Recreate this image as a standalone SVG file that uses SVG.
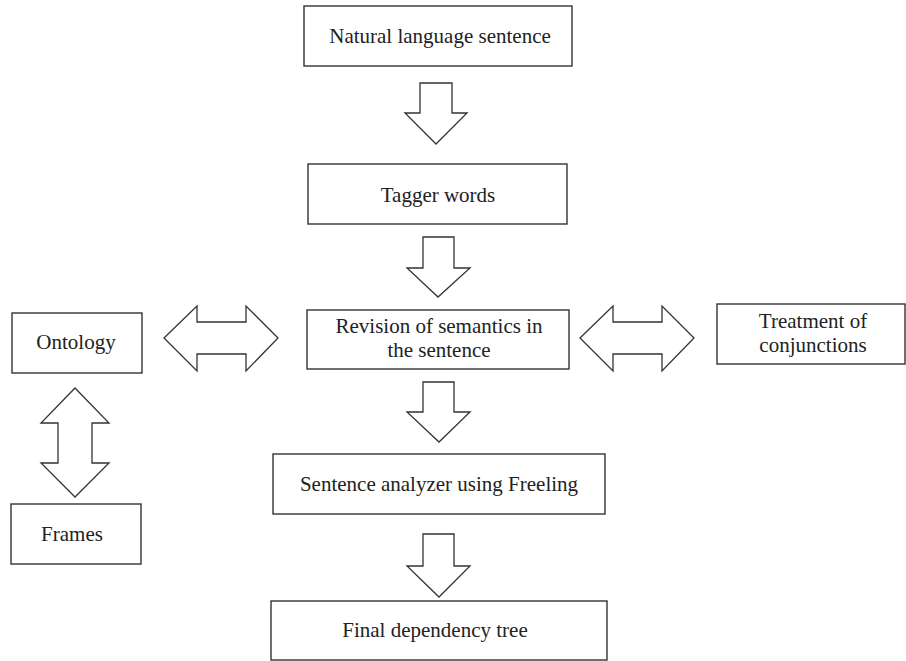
<svg xmlns="http://www.w3.org/2000/svg" width="906" height="661" viewBox="0 0 906 661">
  <style>
    .box { fill: #ffffff; stroke: #333333; stroke-width: 1.4; }
    .arrow { fill: #ffffff; stroke: #333333; stroke-width: 1.3; stroke-linejoin: miter; }
    .label { font-family: "Liberation Serif", "Times New Roman", serif; font-size: 21px; fill: #222222; text-anchor: middle; }
  </style>
  <rect width="906" height="661" fill="#ffffff"/>

  <!-- block arrows between the steps -->
  <g id="connectors">
    <polygon class="arrow" points="420,83 452,83 452,113 467,113 436,144 405,113 420,113"/>
    <polygon class="arrow" points="423,237 454,237 454,268 470,268 438,297 407,268 423,268"/>
    <polygon class="arrow" points="423,382 454,382 454,412 470,412 439,442 407,412 423,412"/>
    <polygon class="arrow" points="423,534 454,534 454,566 470,566 439,597 407,566 423,566"/>
    <!-- two-way arrow: Ontology <-> Revision -->
    <polygon class="arrow" points="164,338 197,306 197,322 246,322 246,306 278,338 246,371 246,354 197,354 197,371"/>
    <!-- two-way arrow: Revision <-> Treatment of conjunctions -->
    <polygon class="arrow" points="580,338 613,306 613,322 662,322 662,306 694,338 662,371 662,354 613,354 613,371"/>
    <!-- two-way arrow: Ontology <-> Frames -->
    <polygon class="arrow" points="75,388 109,423 92,423 92,463 109,463 75,497 41,463 58,463 58,423 41,423"/>
  </g>

  <g id="natural-language-sentence">
    <rect class="box" x="304" y="6" width="268" height="60"/>
    <text class="label" x="440" y="43">Natural language sentence</text>
  </g>

  <g id="tagger-words">
    <rect class="box" x="308" y="164" width="259" height="60"/>
    <text class="label" x="438" y="202">Tagger words</text>
  </g>

  <g id="revision-of-semantics">
    <rect class="box" x="307" y="310" width="262" height="59"/>
    <text class="label" x="439" y="333">Revision of semantics in</text>
    <text class="label" x="439" y="357">the sentence</text>
  </g>

  <g id="ontology">
    <rect class="box" x="12" y="313" width="130" height="60"/>
    <text class="label" x="76" y="349">Ontology</text>
  </g>

  <g id="treatment-of-conjunctions">
    <rect class="box" x="717" y="304" width="188" height="60"/>
    <text class="label" x="813" y="328">Treatment of</text>
    <text class="label" x="813" y="352">conjunctions</text>
  </g>

  <g id="frames">
    <rect class="box" x="11" y="504" width="130" height="60"/>
    <text class="label" x="72" y="541">Frames</text>
  </g>

  <g id="sentence-analyzer">
    <rect class="box" x="273" y="454" width="332" height="60"/>
    <text class="label" x="439" y="491">Sentence analyzer using Freeling</text>
  </g>

  <g id="final-dependency-tree">
    <rect class="box" x="271" y="601" width="336" height="59"/>
    <text class="label" x="435" y="637">Final dependency tree</text>
  </g>
</svg>
